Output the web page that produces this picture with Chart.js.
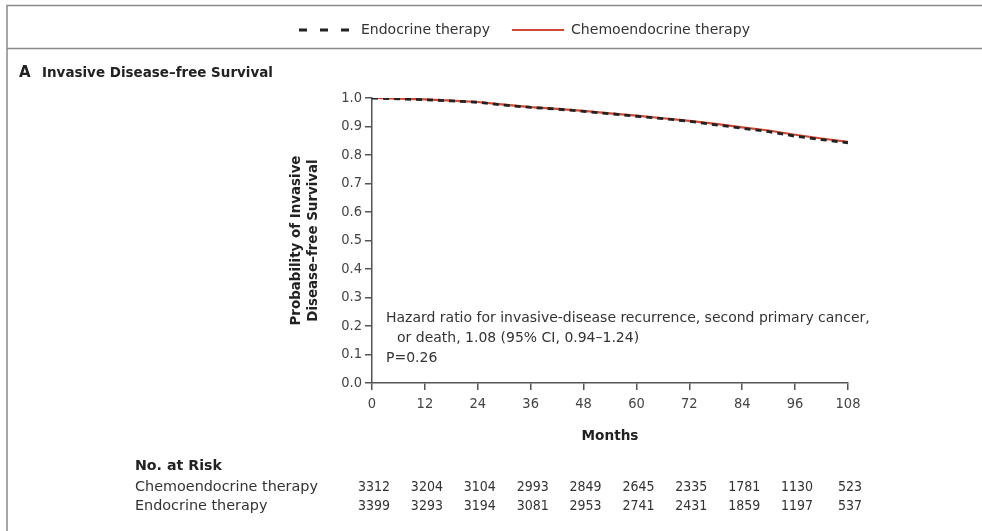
<!DOCTYPE html>
<html>
<head>
<meta charset="utf-8">
<script src="https://cdn.jsdelivr.net/npm/chart.js@4/dist/chart.umd.min.js"></script>
<style>
html,body{margin:0;padding:0;background:#fff;}
#wrap{position:relative;width:982px;height:531px;}
</style>
</head>
<body>
<div id="wrap"><canvas id="c" width="982" height="531"></canvas></div>
<script>
// ---- data ----
const months = [0, 6, 12, 18, 24, 30, 36, 42, 48, 54, 60, 66, 72, 78, 84, 90, 96, 102, 108];
const endocrine = [1.000, 0.997, 0.994, 0.990, 0.985, 0.975, 0.967, 0.961, 0.953, 0.945, 0.936, 0.928, 0.918, 0.906, 0.894, 0.882, 0.866, 0.854, 0.843];
const chemoendocrine = [1.000, 0.998, 0.995, 0.991, 0.986, 0.977, 0.968, 0.962, 0.955, 0.946, 0.938, 0.929, 0.920, 0.909, 0.897, 0.886, 0.871, 0.858, 0.846];
const riskMonths = [0, 12, 24, 36, 48, 60, 72, 84, 96, 108];
const riskChemo = [3312, 3204, 3104, 2993, 2849, 2645, 2335, 1781, 1130, 523];
const riskEndo = [3399, 3293, 3194, 3081, 2953, 2741, 2431, 1859, 1197, 537];
const seriesNames = ['Endocrine therapy', 'Chemoendocrine therapy'];
const panelTitle = 'Invasive Disease\u2013free Survival';
const yTitle = ['Probability of Invasive', 'Disease\u2013free Survival'];
const xTitle = 'Months';
const annotation = ['Hazard ratio for invasive-disease recurrence, second primary cancer,', 'or death, 1.08 (95% CI, 0.94\u20131.24)', 'P=0.26'];

const FONT = '"DejaVu Sans", Lato, sans-serif';
const NUMFONT = '"DejaVu Sans Condensed", "DejaVu Sans", sans-serif';
const RED = '#cf4a35';
const DARK = '#222';
const AXIS = '#555';

// choose font size so that text spans a given width
function fitFont(ctx, text, weight, target, family) {
  ctx.font = weight + ' 10px ' + family;
  const w = ctx.measureText(text).width;
  const size = Math.max(9, Math.min(17, 10 * target / w));
  return weight + ' ' + size.toFixed(2) + 'px ' + family;
}

const decor = {
  id: 'decor',
  afterDraw(chart) {
    const ctx = chart.ctx;
    const xs = chart.scales.x;
    const ca = chart.chartArea;
    ctx.save();
    // frame
    ctx.strokeStyle = '#8a8a8a';
    ctx.lineWidth = 1.5;
    ctx.beginPath();
    ctx.moveTo(7, 531); ctx.lineTo(7, 5.5); ctx.lineTo(982, 5.5);
    ctx.moveTo(7, 48.5); ctx.lineTo(982, 48.5);
    ctx.stroke();

    // legend
    ctx.lineWidth = 3;
    ctx.strokeStyle = DARK;
    ctx.setLineDash([8, 13]);
    ctx.beginPath(); ctx.moveTo(299, 30); ctx.lineTo(354, 30); ctx.stroke();
    ctx.setLineDash([]);
    ctx.strokeStyle = RED;
    ctx.lineWidth = 2;
    ctx.beginPath(); ctx.moveTo(512, 30); ctx.lineTo(564, 30); ctx.stroke();
    ctx.fillStyle = '#333';
    ctx.textBaseline = 'middle';
    ctx.textAlign = 'left';
    ctx.font = fitFont(ctx, seriesNames[0], 'normal', 129, FONT);
    ctx.fillText(seriesNames[0], 361, 30);
    ctx.font = fitFont(ctx, seriesNames[1], 'normal', 179, FONT);
    ctx.fillText(seriesNames[1], 571, 30);

    // panel title
    ctx.fillStyle = '#222';
    ctx.font = 'bold 15px ' + FONT;
    ctx.fillText('A', 19, 73);
    ctx.font = fitFont(ctx, panelTitle, 'bold', 231, FONT);
    ctx.fillText(panelTitle, 42, 73);

    // y title
    ctx.save();
    const yf = fitFont(ctx, yTitle[0], 'bold', 170, FONT);
    ctx.font = yf;
    ctx.textAlign = 'center';
    const cy = (ca.top + ca.bottom) / 2;
    ctx.translate(297, cy); ctx.rotate(-Math.PI / 2);
    ctx.fillText(yTitle[0], 0, 0);
    ctx.fillText(yTitle[1], 0, 16.5);
    ctx.restore();

    // x title
    ctx.font = fitFont(ctx, xTitle, 'bold', 57, FONT);
    ctx.textAlign = 'center';
    ctx.fillText(xTitle, (ca.left + ca.right) / 2, 436);

    // annotation
    ctx.font = fitFont(ctx, annotation[0], 'normal', 484, FONT);
    ctx.textAlign = 'left';
    ctx.fillStyle = '#333';
    ctx.fillText(annotation[0], ca.left + 14, 318);
    ctx.fillText(annotation[1], ca.left + 25, 338);
    ctx.fillText(annotation[2], ca.left + 14, 358);

    // number at risk
    ctx.fillStyle = '#222';
    ctx.font = fitFont(ctx, 'No. at Risk', 'bold', 87, FONT);
    ctx.fillText('No. at Risk', 135, 466);
    ctx.font = fitFont(ctx, seriesNames[1], 'normal', 183, FONT);
    ctx.fillStyle = '#333';
    ctx.fillText(seriesNames[1], 135, 487);
    ctx.fillText(seriesNames[0], 135, 506);
    ctx.textAlign = 'center';
    ctx.font = '14px ' + NUMFONT;
    riskMonths.forEach((m, i) => {
      const px = xs.getPixelForValue(m);
      ctx.fillText(String(riskChemo[i]), px + 2, 487);
      ctx.fillText(String(riskEndo[i]), px + 2, 506);
    });
    ctx.restore();
  }
};

new Chart(document.getElementById('c'), {
  type: 'line',
  data: {
    datasets: [
      {
        label: seriesNames[0],
        data: months.map((m, i) => ({x: m, y: endocrine[i]})),
        borderColor: DARK,
        borderWidth: 2.8,
        borderDash: [6, 5],
        pointRadius: 0,
        tension: 0,
        order: 0
      },
      {
        label: seriesNames[1],
        data: months.map((m, i) => ({x: m, y: chemoendocrine[i]})),
        borderColor: RED,
        borderWidth: 2.2,
        pointRadius: 0,
        tension: 0,
        order: 1
      }
    ]
  },
  options: {
    responsive: false,
    animation: false,
    layout: {padding: {left: 0, top: 98, right: 134, bottom: 118}},
    plugins: {legend: {display: false}, tooltip: {enabled: false}},
    scales: {
      x: {
        type: 'linear', min: 0, max: 108,
        afterFit: s => { s.height = 30; },
        ticks: {stepSize: 12, color: '#444', font: {family: NUMFONT, size: 14.5}, padding: 6, maxRotation: 0},
        grid: {drawOnChartArea: false, drawTicks: true, tickLength: 7, color: AXIS, lineWidth: 1.5},
        border: {color: AXIS, width: 1.5}
      },
      y: {
        min: 0, max: 1,
        afterFit: s => { s.width = 372; },
        ticks: {stepSize: 0.1, color: '#444', font: {family: NUMFONT, size: 14.5}, padding: 3, callback: v => v.toFixed(1)},
        grid: {drawOnChartArea: false, drawTicks: true, tickLength: 7, color: AXIS, lineWidth: 1.5},
        border: {color: AXIS, width: 1.5}
      }
    }
  },
  plugins: [decor]
});
</script>
</body>
</html>
